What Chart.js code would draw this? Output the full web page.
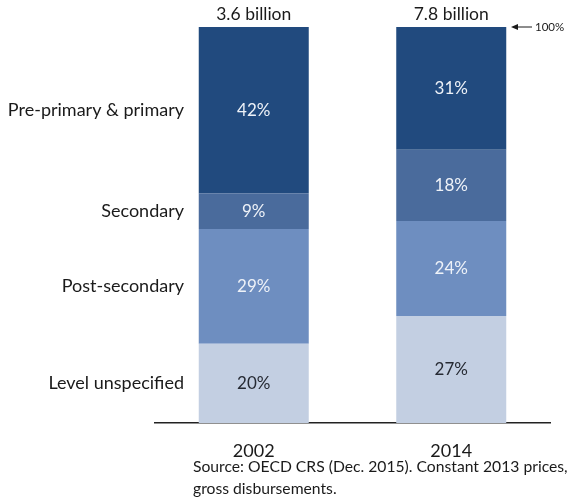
<!DOCTYPE html>
<html>
<head>
<meta charset="utf-8">
<script src="https://cdn.jsdelivr.net/npm/chart.js@4"></script>
<style>
  html, body { margin: 0; padding: 0; background: #fff; }
  #wrap { width: 569px; height: 501px; position: relative; }
</style>
</head>
<body>
<div id="wrap"><canvas id="myChart" width="569" height="501"></canvas></div>
<script>
var ctx = document.getElementById('myChart').getContext('2d');

// Anos e totais (acima das barras)
var years = ['2002', '2014'];
var totals = ['3.6 billion', '7.8 billion'];

// Níveis de ensino, de baixo para cima
var levels = ['Level unspecified', 'Post-secondary', 'Secondary', 'Pre-primary & primary'];
var levelUnspecified = [20, 27];
var postSecondary = [29, 24];
var secondary = [9, 18];
var prePrimary = [42, 31];

var colors = ['#c3cfe2', '#6e8ec0', '#4a6b9c', '#214a7e'];
// cor do texto dos percentuais em cada faixa
var pctColors = ['#262a33', '#eef2f8', '#eef2f8', '#eef2f8'];
var FONT = 'Lato, "Open Sans", sans-serif';

// Rótulos: percentuais, nomes dos níveis, totais, seta 100% e fonte
var labelsPlugin = {
    id: 'labelsPlugin',
    afterDatasetsDraw: function (chart) {
        var c = chart.ctx;
        var y = chart.scales.y;
        c.save();
        c.textBaseline = 'middle';

        // percentuais dentro das barras
        c.font = '17px ' + FONT;
        c.textAlign = 'center';
        chart.data.datasets.forEach(function (ds, i) {
            c.fillStyle = pctColors[i];
            chart.getDatasetMeta(i).data.forEach(function (bar, j) {
                var mid = (bar.y + bar.base) / 2;
                c.fillText(ds.data[j] + '%', bar.x, mid);
            });
        });

        // nomes dos níveis à esquerda, alinhados ao 2002
        c.font = '18px ' + FONT;
        c.fillStyle = '#1a1a1a';
        c.textAlign = 'right';
        var bottom = 0;
        chart.data.datasets.forEach(function (ds) {
            var top = bottom + ds.data[0];
            var mid = y.getPixelForValue((bottom + top) / 2);
            c.fillText(ds.label, 184, mid);
            bottom = top;
        });

        // totais
        c.font = '17.5px ' + FONT;
        c.textAlign = 'center';
        var first = chart.getDatasetMeta(0).data;
        totals.forEach(function (t, j) {
            c.fillText(t, first[j].x, 14);
        });

        // seta 100%
        var y100 = y.getPixelForValue(100);
        c.strokeStyle = '#1a1a1a';
        c.lineWidth = 1;
        c.beginPath();
        c.moveTo(515, y100);
        c.lineTo(532, y100);
        c.stroke();
        c.beginPath();
        c.moveTo(511, y100);
        c.lineTo(518, y100 - 3);
        c.lineTo(518, y100 + 3);
        c.closePath();
        c.fillStyle = '#1a1a1a';
        c.fill();
        c.font = '11.5px ' + FONT;
        c.textAlign = 'left';
        c.fillText('100%', 535, y100);

        // fonte dos dados
        c.font = '15.7px ' + FONT;
        c.fillText('Source: OECD CRS (Dec. 2015). Constant 2013 prices,', 193, 467);
        c.fillText('gross disbursements.', 193, 489);
        c.restore();
    }
};

var datasets = [levelUnspecified, postSecondary, secondary, prePrimary].map(function (d, i) {
    return {
        label: levels[i],
        data: d,
        backgroundColor: colors[i],
        borderWidth: 0,
        barPercentage: 0.557,
        categoryPercentage: 1
    };
});

var chart = new Chart(ctx, {
    type: 'bar',
    data: { labels: years, datasets: datasets },
    plugins: [labelsPlugin],
    options: {
        responsive: false,
        animation: false,
        layout: { padding: { left: 155, right: 19, top: 27, bottom: 0 } },
        plugins: { legend: { display: false }, tooltip: { enabled: false } },
        scales: {
            x: {
                stacked: true,
                grid: { display: false, drawTicks: false },
                border: { display: true, color: '#222', width: 1.5 },
                ticks: { color: '#1a1a1a', font: { size: 18, family: FONT }, padding: 17 },
                afterFit: function (scale) { scale.height = 78; }
            },
            y: {
                stacked: true,
                display: false,
                min: 0,
                max: 100
            }
        }
    }
});
</script>
</body>
</html>
